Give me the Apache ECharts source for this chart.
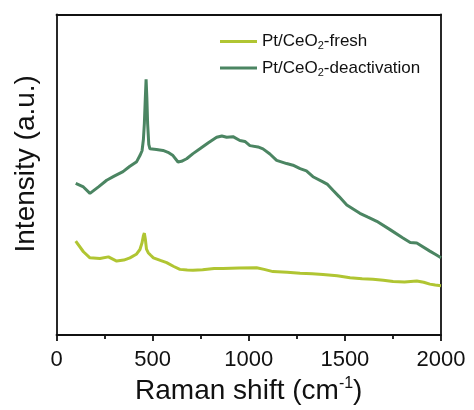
<!DOCTYPE html>
<html><head><meta charset="utf-8">
<script src="https://cdn.jsdelivr.net/npm/echarts@6/dist/echarts.min.js"></script>
<style>html,body{margin:0;padding:0;background:#fff}#c{width:474px;height:410px}</style>
</head><body><div id="c"></div>
<script>
var xTicks = [0, 500, 1000, 1500, 2000];
var freshX = [100,140,174,226,270,313,350,382,415,434,445,452,457,462,468,477,490,504,540,573,610,642,680,710,760,820,866,950,1041,1080,1126,1200,1267,1330,1386,1460,1527,1590,1646,1700,1751,1810,1874,1910,1942,1970,2000];
var freshY = [29.3,26.0,24.1,23.9,24.4,23.1,23.4,24.1,25.2,26.7,28.8,31.0,31.8,30.0,26.8,25.7,24.9,24.1,23.3,22.6,21.4,20.5,20.3,20.2,20.4,20.8,20.8,20.9,21.0,20.5,19.8,19.6,19.3,19.1,18.9,18.5,17.9,17.6,17.4,17.1,16.7,16.6,16.9,16.5,15.9,15.6,15.4];
var deactX = [100,140,174,220,261,300,346,380,417,434,445,452,457,462,466,470,474,480,486,520,554,580,606,632,650,677,710,746,790,833,860,885,918,954,980,1006,1048,1074,1110,1145,1197,1230,1267,1300,1334,1386,1410,1438,1470,1510,1578,1620,1666,1735,1802,1840,1874,1942,1970,2000];
var deactY = [47.3,46.2,44.2,46.3,48.3,49.6,51.0,52.6,54.1,56.0,57.5,61.0,66.0,74.0,79.8,74.0,66.0,59.5,58.1,57.9,57.6,57.0,56.0,54.0,54.2,55.0,56.6,58.1,60.0,61.7,62.1,61.7,61.9,60.7,60.4,59.1,58.7,58.1,56.5,54.5,53.5,53.0,51.9,51.2,49.4,47.8,47.0,45.2,43.2,40.6,38.0,36.8,35.5,32.9,30.3,28.9,28.7,26.2,25.2,24.1];
var seriesNames = ['Pt/CeO2-fresh', 'Pt/CeO2-deactivation'];
var colors = ['#b0c532', '#4b8562'];

function zip(a, b) { return a.map(function (v, i) { return [v, b[i]]; }); }

var chart = echarts.init(document.getElementById('c'), null, {renderer: 'canvas'});
var font = 'Liberation Sans, Arial, sans-serif';
var ink = '#111';
chart.setOption({
  animation: false,
  backgroundColor: '#fff',
  grid: {left: 56.5, top: 14.5, right: 33, bottom: 72, containLabel: false},
  legend: {
    top: 28, left: 215, orient: 'vertical', itemGap: 8,
    itemWidth: 37, itemHeight: 3, icon: 'rect',
    data: seriesNames,
    formatter: function (n) { return n.replace('CeO2', 'CeO{sub|2}'); },
    textStyle: {fontFamily: font, fontSize: 17, color: ink, padding: [0, 0, 0, 0],
      rich: {sub: {fontFamily: font, fontSize: 11, verticalAlign: 'bottom', padding: [9, 0, 0, 0], color: ink}}}
  },
  xAxis: [{
    type: 'value', min: 0, max: 2000, interval: 500,
    name: 'Raman shift (cm{sup|-1})', nameLocation: 'middle', nameGap: 39,
    nameTextStyle: {fontFamily: font, fontSize: 28, color: ink,
      rich: {sup: {fontFamily: font, fontSize: 16, verticalAlign: 'top', padding: [0, 0, 14, 0], color: ink}}},
    axisLine: {show: true, onZero: false, lineStyle: {color: ink, width: 1.8}},
    axisTick: {show: true, inside: false, length: 6, lineStyle: {color: ink, width: 1.8}},
    minorTick: {show: true, splitNumber: 2, length: 4, lineStyle: {color: ink, width: 1.8}},
    axisLabel: {fontFamily: font, fontSize: 22, color: ink, margin: 14,
      formatter: function (v) { return xTicks.indexOf(v) >= 0 ? String(v) : ''; }},
    splitLine: {show: false}
  }, {
    type: 'value', min: 0, max: 2000, position: 'top',
    axisLine: {show: true, onZero: false, lineStyle: {color: ink, width: 1.8}},
    axisTick: {show: false}, axisLabel: {show: false}, splitLine: {show: false}
  }],
  yAxis: [{
    type: 'value', min: 0, max: 100,
    name: 'Intensity (a.u.)', nameLocation: 'middle', nameGap: 16, nameRotate: 90,
    nameTextStyle: {fontFamily: font, fontSize: 28, color: ink, padding: [0, 0, 0, 22]},
    axisLine: {show: true, onZero: false, lineStyle: {color: ink, width: 1.8}},
    axisTick: {show: false}, axisLabel: {show: false}, splitLine: {show: false}
  }, {
    type: 'value', min: 0, max: 100, position: 'right',
    axisLine: {show: true, onZero: false, lineStyle: {color: ink, width: 1.8}},
    axisTick: {show: false}, axisLabel: {show: false}, splitLine: {show: false}
  }],
  series: [
    {name: seriesNames[0], type: 'line', data: zip(freshX, freshY), showSymbol: false, symbol: 'none',
     lineStyle: {color: colors[0], width: 3}, itemStyle: {color: colors[0]}},
    {name: seriesNames[1], type: 'line', data: zip(deactX, deactY), showSymbol: false, symbol: 'none',
     lineStyle: {color: colors[1], width: 3}, itemStyle: {color: colors[1]}}
  ]
});
</script></body></html>
